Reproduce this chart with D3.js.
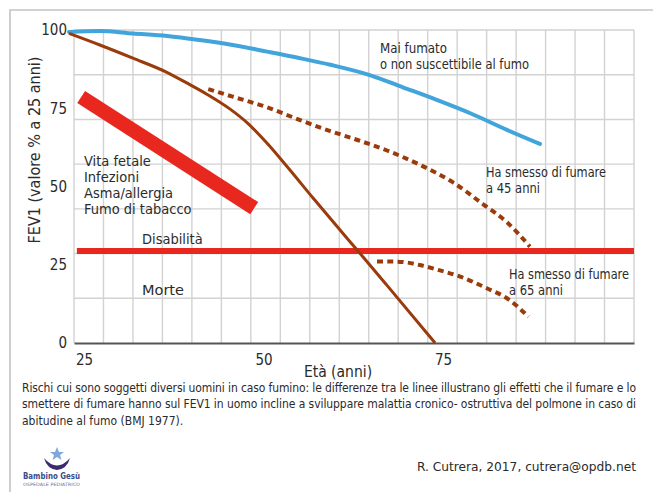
<!DOCTYPE html>
<html><head><meta charset="utf-8">
<script src="https://cdn.jsdelivr.net/npm/d3@7"></script>
<style>
body{margin:0;background:#fff}
text{font-family:"DejaVu Sans Condensed","Liberation Sans Narrow","Arial Narrow",sans-serif;font-stretch:condensed;fill:#2b2b2b}
</style>
</head><body>
<svg id="c" width="653" height="492"></svg>
<script>
// ---- data ----
const xTicks = [25, 50, 75];
const yTicks = [0, 25, 50, 75, 100];
const neverSmoked = [[24.3,99.4],[28.6,99.7],[33.2,98.9],[38.0,98.1],[42.5,96.8],[47.1,95.2],[51.9,93.1],[56.5,91.0],[60.7,88.9],[66.2,85.6],[70.8,81.7],[75.6,77.6],[80.2,73.4],[85.3,68.1],[89.9,63.6]];
const smoker = [[24.3,98.9],[28.6,95.2],[33.2,91.0],[38.0,86.4],[40.7,83.1],[43.5,79.5],[46.7,74.8],[49.1,70.4],[51.9,63.8],[54.7,56.3],[58.3,46.3],[61.5,37.6],[65.0,28.2],[68.6,18.4],[75.3,0]];
const quit45 = [[43.7,81.1],[47.1,78.7],[51.9,75.3],[56.5,71.2],[60.7,67.7],[63.9,65.3],[68.6,61.5],[73.2,56.9],[77.8,51.3],[82.0,44.3],[85.3,38.6],[88.5,30.8]];
const quit65 = [[67.2,26.0],[69.9,26.0],[73.2,24.9],[75.5,23.5],[78.8,21.2],[82.5,17.5],[85.3,14.3],[88.3,8.4]];
const riskBand = [[26.0,78.6],[50.1,43.1]];
const disability = [[25.4,29.4],[103,29.4]];
const riskFactors = ["Vita fetale","Infezioni","Asma/allergia","Fumo di tabacco"];
const caption = [
 "Rischi cui sono soggetti diversi uomini in caso fumino: le differenze tra le linee illustrano gli effetti che il fumare e lo",
 "smettere di fumare hanno sul FEV1 in uomo incline a sviluppare malattia cronico- ostruttiva del polmone in caso di",
 "abitudine al fumo (BMJ 1977)."];

const svg = d3.select("#c");
const x = d3.scaleLinear().domain([25,103]).range([74,634]);
const y = d3.scaleLinear().domain([0,100]).range([343,30]);

function fit(sel, w){ sel.attr("textLength", w).attr("lengthAdjust","spacingAndGlyphs"); return sel; }

// outer frame
svg.append("path").attr("d","M10,492 L10,10 L653,10").attr("fill","none").attr("stroke","#c4c4c4").attr("stroke-width",1.6);

// grid
const vGrid = d3.range(20).map(i => 25 + i*78/19);
const hGrid = d3.range(1,8).map(i => i*100/7);
svg.append("g").selectAll("line").data(vGrid).join("line")
  .attr("x1",d=>x(d)).attr("x2",d=>x(d)).attr("y1",y(0)).attr("y2",y(100))
  .attr("stroke","#d2d2d2").attr("stroke-width",1.4);
svg.append("g").selectAll("line").data(hGrid).join("line")
  .attr("x1",x(25)).attr("x2",x(103)).attr("y1",d=>y(d)).attr("y2",d=>y(d))
  .attr("stroke","#d2d2d2").attr("stroke-width",1.4);

// axes
const xAxis = svg.append("g").attr("transform",`translate(0,${y(0)})`)
  .call(d3.axisBottom(x).tickValues(xTicks).tickSize(0).tickPadding(11));
xAxis.select(".domain").attr("stroke","#555").attr("stroke-width",2);
xAxis.selectAll("text").attr("dx",10).attr("font-size",15).style("fill","#2b2b2b");
const yAxis = svg.append("g").attr("transform",`translate(${x(25)},0)`)
  .call(d3.axisLeft(y).tickValues(yTicks).tickSize(0).tickPadding(7));
yAxis.select(".domain").remove();
yAxis.selectAll("text").attr("font-size",15).style("fill","#2b2b2b");

svg.append("text").attr("x",338).attr("y",377).attr("text-anchor","middle").attr("font-size",15.5).text("Età (anni)");
svg.append("text").attr("transform","translate(40,150) rotate(-90)").attr("text-anchor","middle").attr("font-size",16).text("FEV1 (valore % a 25 anni)");

const line = d3.line().x(d=>x(d[0])).y(d=>y(d[1])).curve(d3.curveMonotoneX);
const straight = d3.line().x(d=>x(d[0])).y(d=>y(d[1]));

// red disability line and risk band
svg.append("path").datum(disability).attr("d",straight)
  .attr("stroke","#e8281e").attr("stroke-width",6).attr("fill","none");
svg.append("path").datum(riskBand).attr("d",straight)
  .attr("stroke","#e8281e").attr("stroke-width",14.5).attr("fill","none");

// curves
svg.append("path").datum(neverSmoked).attr("d",line).attr("fill","none").attr("stroke","#41a5dc").attr("stroke-width",4).attr("stroke-linecap","round");
svg.append("path").datum(smoker).attr("d",line).attr("fill","none").attr("stroke","#9b3b0c").attr("stroke-width",3);
svg.append("path").datum(quit45).attr("d",line).attr("fill","none").attr("stroke","#9b3b0c").attr("stroke-width",4).attr("stroke-dasharray","6,4.3");
svg.append("path").datum(quit65).attr("d",line).attr("fill","none").attr("stroke","#9b3b0c").attr("stroke-width",4).attr("stroke-dasharray","6,4.3");

// annotations
const ann = svg.append("g").attr("font-size",14.5);
ann.selectAll("text.rf").data(riskFactors).join("text").attr("class","rf")
  .attr("x",84).attr("y",(d,i)=>166+i*16).text(d=>d);
ann.append("text").attr("x",142).attr("y",244).text("Disabilità");
fit(ann.append("text").attr("x",142).attr("y",295).text("Morte"),42);
fit(ann.append("text").attr("x",380).attr("y",53).text("Mai fumato"),67);
fit(ann.append("text").attr("x",380).attr("y",69).text("o non suscettibile al fumo"),149);
fit(ann.append("text").attr("x",486).attr("y",177).text("Ha smesso di fumare"),120);
fit(ann.append("text").attr("x",486).attr("y",193).text("a 45 anni"),54);
fit(ann.append("text").attr("x",509).attr("y",279).text("Ha smesso di fumare"),120);
fit(ann.append("text").attr("x",509).attr("y",295).text("a 65 anni"),54);

// caption
svg.append("g").selectAll("text").data(caption).join("text")
  .attr("x",22).attr("y",(d,i)=>391.5+i*16.5).attr("font-size",12)
  .each(function(d,i){ if(i<2) d3.select(this).attr("textLength",614).attr("lengthAdjust","spacing"); })
  .text(d=>d);
fit(svg.append("text").attr("x",636).attr("y",471).attr("text-anchor","end").attr("font-size",13).text("R. Cutrera, 2017, cutrera@opdb.net"),219);

// logo
const lg = svg.append("g").attr("transform","translate(22,446)");
lg.append("path").attr("d","M22,12 Q35,27 48,12 Q45,23 35,24 Q25,23 22,12 Z").attr("fill","#3a2c6e");
lg.append("path").attr("d","M35,1 L37,6 L42,6 L38,9 L39.5,14 L35,11 L30.5,14 L32,9 L28,6 L33,6 Z").attr("fill","#7fa8d8");
fit(lg.append("text").attr("x",1).attr("y",33).attr("font-size",8.5).attr("font-weight","bold").style("fill","#3a4c8a").text("Bambino Gesù"),57);
fit(lg.append("text").attr("x",1).attr("y",40).attr("font-size",4.5).style("fill","#6b6b9a").text("OSPEDALE PEDIATRICO"),57);
</script>
</body></html>
